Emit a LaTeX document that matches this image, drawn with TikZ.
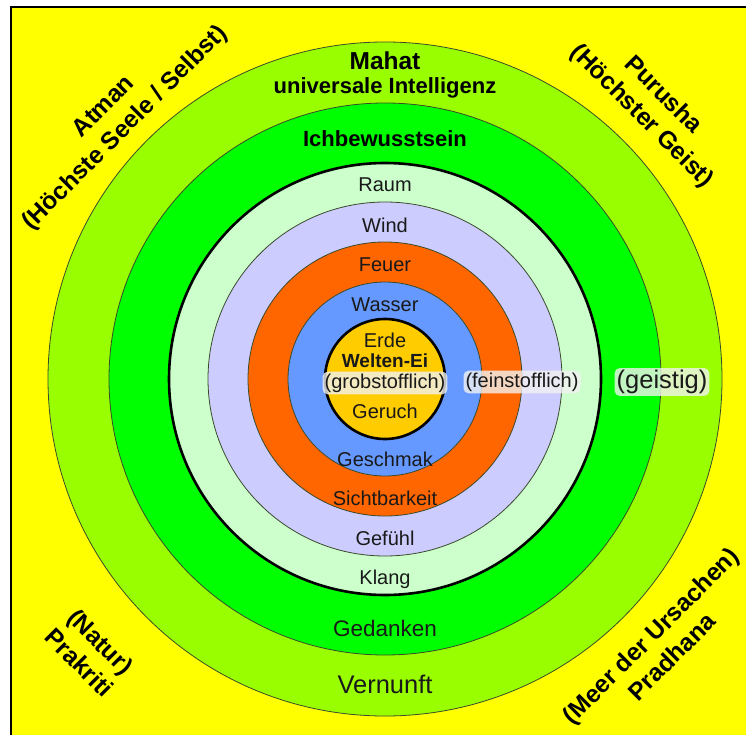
\documentclass[tikz,border=0pt]{standalone}
\usepackage{fontspec}
\setmainfont{Liberation Sans}
\definecolor{bgyellow}{HTML}{FFFF00}
\definecolor{mahatgreen}{HTML}{99FF00}
\definecolor{egogreen}{HTML}{00FF00}
\definecolor{raummint}{HTML}{CCFFCC}
\definecolor{windlav}{HTML}{CCCCFF}
\definecolor{feuerorange}{HTML}{FF6600}
\definecolor{wasserblue}{HTML}{6699FF}
\definecolor{erdegold}{HTML}{FFCC00}
\definecolor{ringline}{HTML}{3A4A2A}
\begin{document}
\begin{tikzpicture}[x=1pt,y=-1pt,
  ring/.style={draw=ringline, line width=0.8pt},
  thickring/.style={draw=black, line width=2.6pt},
  lbl/.style={inner sep=0pt, font=\fontsize{20}{23}\selectfont, text=black!90},
  biglbl/.style={inner sep=0pt, font=\fontsize{25.5}{29}\selectfont, text=black!90},
  boldlbl/.style={inner sep=0pt, font=\bfseries\fontsize{22}{26}\selectfont},
  cornerlbl/.style={inner sep=0pt, align=center, font=\bfseries\fontsize{24.5}{30}\selectfont},
  tag/.style={fill=gray!10, fill opacity=0.8, text opacity=1, rounded corners=5pt,
              inner xsep=2pt, inner ysep=2pt, text=black!90}]
\useasboundingbox (0,0) rectangle (746,735);
% page background and framed yellow field
\fill[white] (0,0) rectangle (746,735);
\fill[bgyellow] (11,7) rectangle (746,735);
\draw[line width=1.6pt] (11,740) -- (11,7) -- (750,7);

% concentric spheres, outermost first
\coordinate (c) at (385,379);
\fill[mahatgreen] (c) circle (337pt); \draw[ring] (c) circle (337pt);
\fill[egogreen] (c) circle (276pt); \draw[ring] (c) circle (276pt);
\fill[raummint] (c) circle (216pt); \draw[thickring] (c) circle (216pt);
\fill[windlav] (c) circle (177pt); \draw[ring] (c) circle (177pt);
\fill[feuerorange] (c) circle (137pt); \draw[ring] (c) circle (137pt);
\fill[wasserblue] (c) circle (97pt); \draw[ring] (c) circle (97pt);
\fill[erdegold] (c) circle (60pt); \draw[thickring] (c) circle (60pt);

% ring names, upper half
\node[boldlbl, font=\bfseries\fontsize{24.5}{28}\selectfont] (mahat) at (385,61) {Mahat};
\node[boldlbl] (intel) at (385,88) {universale Intelligenz};
\node[boldlbl] (ich) at (385,139) {Ichbewusstsein};
\node[lbl] (raum) at (385,185) {Raum};
\node[lbl] (wind) at (385,225) {Wind};
\node[lbl] (feuer) at (385,265) {Feuer};
\node[lbl] (wasser) at (385,305) {Wasser};
\node[lbl] (erde) at (385,340) {Erde};
\node[lbl, font=\bfseries\fontsize{19}{22}\selectfont] (ei) at (385,361) {Welten-Ei};

% ring names, lower half
\node[lbl] (geruch) at (385,411) {Geruch};
\node[lbl] (geschmak) at (385,459) {Geschmak};
\node[lbl] (sicht) at (385,498) {Sichtbarkeit};
\node[lbl] (gefuehl) at (385,538) {Gefühl};
\node[lbl] (klang) at (385,579) {Klang};
\node[lbl, font=\fontsize{22.5}{25}\selectfont] (gedanken) at (385,628) {Gedanken};
\node[biglbl] (vernunft) at (385,684) {Vernunft};

% tags for the three levels
\node[lbl, tag] (grob) at (385,383) {(grobstofflich)};
\node[lbl, tag] (fein) at (522,382) {(feinstofflich)};
\node[biglbl, tag] (geist) at (662,382) {(geistig)};

% corner names
\node[cornerlbl, rotate=45] (atman) at (115,118) {Atman\\(Höchste Seele / Selbst)};
\node[cornerlbl, rotate=-45] (purusha) at (652,106) {Purusha\\(Höchster Geist)};
\node[cornerlbl, rotate=-45] (prakriti) at (90,652) {(Natur)\\Prakriti};
\node[cornerlbl, rotate=45] (pradhana) at (661,646) {(Meer der Ursachen)\\Pradhana};
\end{tikzpicture}
\end{document}
